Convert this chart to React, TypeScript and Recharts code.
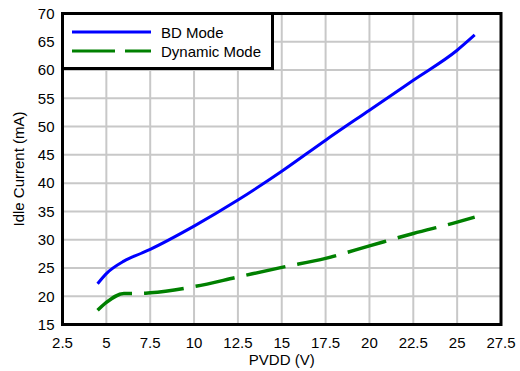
import { LineChart, Line, XAxis, YAxis, CartesianGrid, Legend, ReferenceArea } from 'recharts';

const pvdd = [4.5, 5, 6, 7, 7.5, 10, 12.5, 15, 17.5, 20, 22.5, 25, 26];
const bdMode = [22.2, 24.0, 26.2, 27.6, 28.3, 32.4, 37.0, 42.1, 47.6, 52.9, 58.2, 63.5, 66.2];
const dynamicMode = [17.5, 18.9, 20.5, 20.5, 20.6, 21.7, 23.4, 25.1, 26.7, 28.9, 31.1, 33.1, 34.0];

const xTicks = [2.5, 5, 7.5, 10, 12.5, 15, 17.5, 20, 22.5, 25, 27.5];
const yTicks = [15, 20, 25, 30, 35, 40, 45, 50, 55, 60, 65, 70];

const data = pvdd.map((v, i) => ({ pvdd: v, bd: bdMode[i], dyn: dynamicMode[i] }));

const font = '"Liberation Sans", Arial, sans-serif';

function renderLegend(props: any) {
  const items = props.payload || [];
  return (
    <div style={{ width: 213, height: 58, boxSizing: 'border-box', border: '3px solid #000', background: '#fff' }}>
      <svg width={207} height={52}>
        {items.map((it: any, i: number) => {
          const y = 17 + i * 19;
          return (
            <g key={it.value}>
              <line x1={8} x2={87} y1={y} y2={y} stroke={it.color} strokeWidth={3} strokeDasharray={it.payload?.strokeDasharray ? '43 10' : undefined} />
              <text x={97} y={y + 5.5} fontSize={15} fontFamily={font} fill="#000">{it.value}</text>
            </g>
          );
        })}
      </svg>
    </div>
  );
}

export default function App() {
  return (
    <div style={{ position: 'absolute', left: 0, top: 0, width: 520, height: 371, background: '#fff' }}>
      <LineChart width={520} height={371} data={data} margin={{ top: 13.5, right: 19, left: 0, bottom: 0 }}>
        <CartesianGrid stroke="#c8c8c8" strokeWidth={2} />
        <XAxis
          dataKey="pvdd"
          type="number"
          domain={[2.5, 27.5]}
          ticks={xTicks}
          height={46.5}
          tickLine={false}
          axisLine={false}
          tickMargin={7}
          tick={{ fill: '#000', fontSize: 15, fontFamily: font }}
          label={{ value: 'PVDD (V)', position: 'insideBottom', offset: 6, fill: '#000', fontSize: 15, fontFamily: font }}
        />
        <YAxis
          type="number"
          domain={[15, 70]}
          ticks={yTicks}
          width={62.5}
          tickLine={false}
          axisLine={false}
          tick={{ fill: '#000', fontSize: 15, fontFamily: font }}
          label={{
            content: (p: any) => {
              const vb = p.viewBox;
              const cx = vb.x + 18;
              const cy = vb.y + vb.height / 2;
              return (
                <text x={cx} y={cy} transform={`rotate(-90, ${cx}, ${cy})`} textAnchor="middle" dominantBaseline="central" fontSize={15} fontFamily={font} fill="#000">
                  Idle Current (mA)
                </text>
              );
            },
          }}
        />
        <Line type="monotone" dataKey="bd" name="BD Mode" stroke="#0000ff" strokeWidth={3} dot={false} isAnimationActive={false} />
        <Line type="monotone" dataKey="dyn" name="Dynamic Mode" stroke="#008000" strokeWidth={3.5} strokeDasharray="40 12" dot={false} isAnimationActive={false} />
        <ReferenceArea x1={2.5} x2={27.5} y1={15} y2={70} fill="none" stroke="#000" strokeWidth={3} ifOverflow="visible" />
        <Legend content={renderLegend} layout="horizontal" verticalAlign="middle" align="center" wrapperStyle={{ left: 61, top: 12, width: 213, height: 58 }} />
      </LineChart>
    </div>
  );
}
